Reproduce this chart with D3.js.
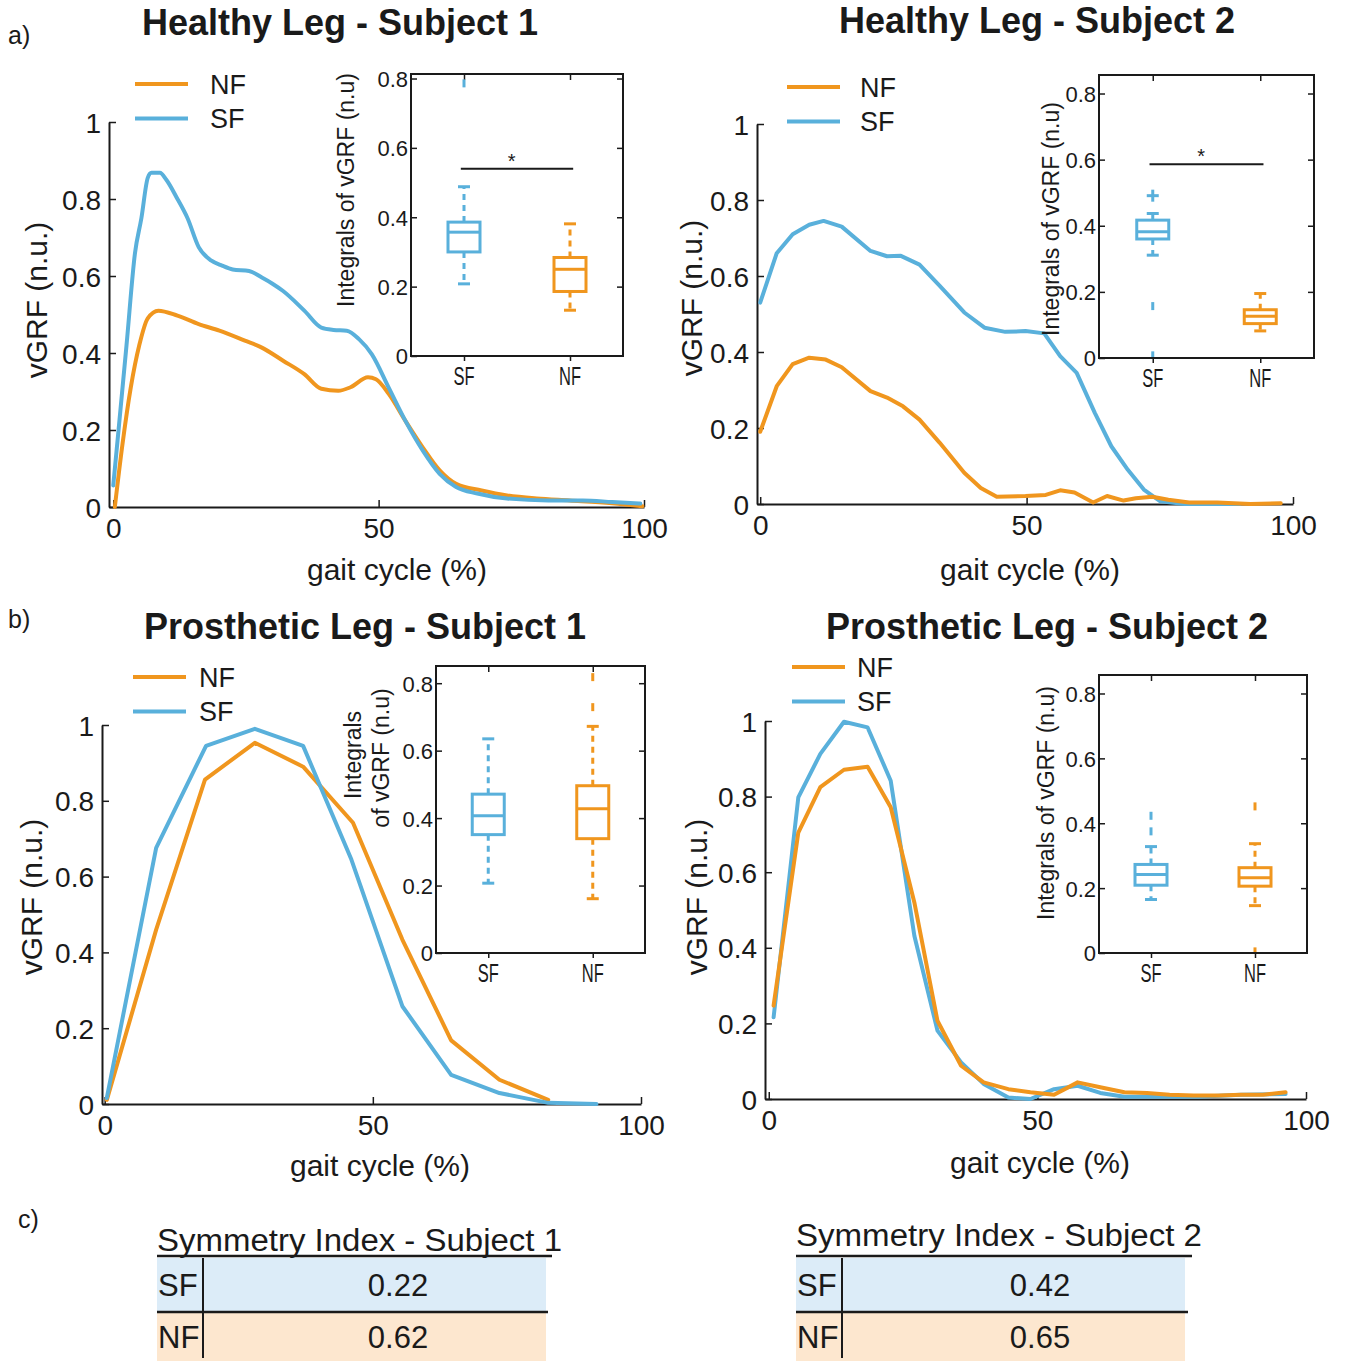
<!DOCTYPE html>
<html><head><meta charset="utf-8">
<script src="https://cdn.jsdelivr.net/npm/d3@7"></script>
<style>
body{margin:0;background:#fff}
svg{display:block}
text{font-family:"Liberation Sans",Arial,Helvetica,sans-serif;fill:#1a1a1a}
</style>
</head><body>
<svg id="fig" width="1350" height="1361"></svg>
<script>
// ---------------- DATA ----------------
const seriesNames = ["NF", "SF"];
const gaitTicks = [0, 50, 100];
const vgrfTicks = [0, 0.2, 0.4, 0.6, 0.8, 1];
const insetTicks = [0, 0.2, 0.4, 0.6, 0.8];
const boxCategories = ["SF", "NF"];
const panelTitles = ["Healthy Leg - Subject 1", "Healthy Leg - Subject 2", "Prosthetic Leg - Subject 1", "Prosthetic Leg - Subject 2"];

// a) Healthy leg, subject 1
const a1SFx = [0, 1, 2.5, 4.1, 5.3, 6.5, 7.2, 8.8, 10, 12.1, 14, 16.1, 18.5, 20.5, 22.5, 25.6, 28, 30, 32, 36, 39.2, 41.5, 44, 46.3, 48.7, 51.9, 55, 58.3, 61.5, 64.6, 68.6, 74.2, 82, 88.5, 94, 99.3];
const a1SFy = [0.056, 0.2, 0.42, 0.66, 0.75, 0.855, 0.868, 0.868, 0.85, 0.80, 0.75, 0.675, 0.64, 0.627, 0.617, 0.613, 0.596, 0.58, 0.561, 0.51, 0.466, 0.46, 0.458, 0.436, 0.397, 0.31, 0.225, 0.147, 0.086, 0.052, 0.035, 0.022, 0.017, 0.017, 0.013, 0.009];
const a1NFx = [0.3, 1.75, 3.3, 4.9, 6.5, 8.5, 12.1, 16.1, 20, 24.8, 28, 32, 36, 39.2, 42.4, 44.7, 48, 49.5, 51.9, 55, 58.3, 61.5, 64.6, 69.4, 74.2, 79.8, 86, 94, 99.7];
const a1NFy = [0, 0.164, 0.31, 0.42, 0.49, 0.51, 0.497, 0.475, 0.458, 0.432, 0.414, 0.38, 0.345, 0.307, 0.302, 0.311, 0.337, 0.332, 0.294, 0.225, 0.155, 0.095, 0.06, 0.043, 0.03, 0.022, 0.017, 0.01, 0.002];
// a) Healthy leg, subject 2
const a2SFx = [0, 3.1, 6.1, 9.2, 11.9, 15.3, 20.7, 23.8, 26.4, 29.9, 33.7, 38.3, 42.1, 46, 49.8, 53.3, 56.3, 59.4, 62.8, 65.9, 69, 72, 75.1, 79.7, 85, 90];
const a2SFy = [0.53, 0.66, 0.71, 0.735, 0.745, 0.73, 0.666, 0.652, 0.653, 0.63, 0.574, 0.504, 0.464, 0.453, 0.455, 0.449, 0.389, 0.345, 0.24, 0.152, 0.09, 0.038, 0.007, 0, 0, 0];
const a2NFx = [0, 3.1, 6.1, 9.2, 12.3, 15.3, 20.7, 23.8, 26.8, 29.9, 33.7, 38.3, 41.4, 44.4, 49.8, 53.6, 56.3, 59, 62.5, 65.1, 68.2, 70.5, 73.6, 76.6, 80.5, 85.8, 92, 97.7];
const a2NFy = [0.19, 0.31, 0.368, 0.385, 0.38, 0.36, 0.297, 0.28, 0.257, 0.222, 0.161, 0.082, 0.042, 0.019, 0.021, 0.024, 0.036, 0.03, 0.004, 0.021, 0.009, 0.015, 0.019, 0.011, 0.004, 0.004, 0, 0.002];
// b) Prosthetic leg, subject 1
const b1SFx = [0.4, 9.6, 18.9, 28, 37, 46, 55.5, 64.6, 73.6, 82.7, 91.7];
const b1SFy = [0.016, 0.676, 0.945, 0.99, 0.945, 0.645, 0.258, 0.077, 0.029, 0.003, 0];
const b1NFx = [0.4, 9.6, 18.7, 28, 37, 46.3, 55.5, 64.6, 73.6, 82.7];
const b1NFy = [0.011, 0.46, 0.856, 0.953, 0.89, 0.742, 0.434, 0.168, 0.064, 0.011];
// b) Prosthetic leg, subject 2
const b2SFx = [0.9, 5.5, 9.6, 14, 18.4, 22.7, 27.1, 31.4, 35.8, 40, 44.6, 48.7, 53.1, 57.5, 61.7, 66.2, 70.4, 75, 80, 87.9, 96.2];
const b2SFy = [0.216, 0.798, 0.913, 0.998, 0.983, 0.842, 0.432, 0.181, 0.097, 0.04, 0.004, 0, 0.026, 0.035, 0.016, 0.006, 0.006, 0.006, 0.006, 0.011, 0.013];
const b2NFx = [0.9, 5.5, 9.6, 14, 18.4, 22.7, 27.1, 31.4, 35.8, 40, 44.6, 48.7, 53.1, 57.5, 61.7, 66.2, 70.4, 74.6, 79.1, 83.7, 87.9, 92, 96.2];
const b2NFy = [0.247, 0.705, 0.825, 0.871, 0.879, 0.772, 0.52, 0.207, 0.088, 0.044, 0.026, 0.018, 0.011, 0.044, 0.031, 0.018, 0.016, 0.011, 0.009, 0.009, 0.011, 0.011, 0.018];

// Box plots of vGRF integrals: [lower whisker, q1, median, q3, upper whisker]
const a1BoxSF = [0.208, 0.30, 0.357, 0.386, 0.488], a1BoxNF = [0.132, 0.186, 0.25, 0.284, 0.381];
const a1OutSF = [0.786], a1OutNF = [], a1PlusSF = [], a1PlusNF = [];
const a2BoxSF = [0.311, 0.36, 0.382, 0.417, 0.437], a2BoxNF = [0.082, 0.104, 0.126, 0.146, 0.195];
const a2OutSF = [0.157, 0.008], a2OutNF = [], a2PlusSF = [0.491], a2PlusNF = [];
const b1BoxSF = [0.207, 0.351, 0.407, 0.471, 0.635], b1BoxNF = [0.161, 0.339, 0.428, 0.496, 0.672];
const b1OutSF = [], b1OutNF = [0.729, 0.818], b1PlusSF = [], b1PlusNF = [];
const b2BoxSF = [0.165, 0.209, 0.242, 0.273, 0.328], b2BoxNF = [0.146, 0.206, 0.232, 0.263, 0.337];
const b2OutSF = [0.375, 0.423], b2OutNF = [0.452, 0.005], b2PlusSF = [], b2PlusNF = [];
const sigLevels = [0.54, 0.586, null, null];

// c) Symmetry index table
const tableTitles = ["Symmetry Index - Subject 1", "Symmetry Index - Subject 2"];
const symmetrySF = [0.22, 0.42];
const symmetryNF = [0.62, 0.65];

// ---------------- STYLE / LAYOUT ----------------
const COLOR = {NF: "#f0961e", SF: "#59b0db"};
const svg = d3.select("#fig");
const fmtV = d => d === 0 ? "0" : d === 1 ? "1" : d.toFixed(1);

function styleAxis(g, fs, domainW) {
  g.selectAll(".domain").attr("stroke", "#1a1a1a").attr("stroke-width", domainW);
  g.selectAll(".tick line").attr("stroke", "#1a1a1a").attr("stroke-width", 1.5);
  g.selectAll(".tick text").attr("font-size", fs).attr("fill", "#1a1a1a").attr("font-family", "Liberation Sans, Arial, sans-serif");
}

function drawMain(L, series, order, curve) {
  const g = svg.append("g");
  const x = d3.scaleLinear().domain([L.xmin, 100]).range([L.axisX, L.x100]);
  const y = d3.scaleLinear().domain([0, 1]).range([L.y0, L.y1]);
  const gx = g.append("g").attr("transform", `translate(0,${L.y0})`)
    .call(d3.axisBottom(x).tickValues(gaitTicks).tickSizeInner(-7).tickSizeOuter(0).tickPadding(11));
  styleAxis(gx, 28, 2);
  const gy = g.append("g").attr("transform", `translate(${L.axisX},0)`)
    .call(d3.axisLeft(y).tickValues(vgrfTicks).tickSizeInner(-7).tickSizeOuter(0).tickPadding(8).tickFormat(fmtV));
  styleAxis(gy, 28, 2);
  gy.selectAll(".tick text").attr("dy", "0.36em");
  const line = d3.line().x(d => x(d[0])).y(d => y(d[1])).curve(curve);
  order.forEach(name => {
    const s = series[name];
    g.append("path").datum(d3.zip(s[0], s[1]))
      .attr("d", line).attr("fill", "none").attr("stroke", COLOR[name])
      .attr("stroke-width", 4).attr("stroke-linejoin", "round").attr("stroke-linecap", "round");
  });
  // legend
  seriesNames.forEach((name, i) => {
    const ly = L.legY + i * 34.5;
    g.append("line").attr("x1", L.legX).attr("x2", L.legX + 53).attr("y1", ly).attr("y2", ly)
      .attr("stroke", COLOR[name]).attr("stroke-width", 4);
    g.append("text").attr("x", L.legX + L.legGap).attr("y", ly + 9.5).attr("font-size", 27).text(name);
  });
  g.append("text").attr("x", L.titleX).attr("y", L.titleY).attr("text-anchor", "middle")
    .attr("font-size", 36).attr("font-weight", "bold").text(L.title);
  g.append("text").attr("x", L.xlabX).attr("y", L.xlabY).attr("text-anchor", "middle")
    .attr("font-size", 30).text("gait cycle (%)");
  g.append("text").attr("transform", `translate(${L.ylabX},${L.ylabY}) rotate(-90)`)
    .attr("text-anchor", "middle").attr("dominant-baseline", "central").attr("font-size", 30).text("vGRF (n.u.)");
}

function drawInset(B, boxes, outs, plus, sig, labelLines) {
  const g = svg.append("g");
  const y = d3.scaleLinear().domain([0, B.ymax]).range([B.bottom, B.top]);
  const x = d3.scaleLinear().domain([0.5, 2.5]).range([B.left, B.right]);
  g.append("rect").attr("x", B.left).attr("y", B.top).attr("width", B.right - B.left).attr("height", B.bottom - B.top)
    .attr("fill", "none").attr("stroke", "#1a1a1a").attr("stroke-width", 2);
  const gl = g.append("g").attr("transform", `translate(${B.left},0)`)
    .call(d3.axisLeft(y).tickValues(insetTicks).tickSizeInner(-6).tickSizeOuter(0).tickPadding(3).tickFormat(fmtV));
  styleAxis(gl, 22, 0); gl.select(".domain").remove();
  gl.selectAll(".tick text").attr("dy", "0.36em");
  const gr = g.append("g").attr("transform", `translate(${B.right},0)`)
    .call(d3.axisRight(y).tickValues(insetTicks.filter(v => v > 0)).tickSizeInner(-6).tickSizeOuter(0).tickFormat(""));
  styleAxis(gr, 22, 0); gr.select(".domain").remove();
  const gt = g.append("g").attr("transform", `translate(0,${B.top})`)
    .call(d3.axisTop(x).tickValues([1, 2]).tickSizeInner(-6).tickSizeOuter(0).tickFormat(""));
  styleAxis(gt, 22, 0); gt.select(".domain").remove();
  const gb = g.append("g").attr("transform", `translate(0,${B.bottom})`)
    .call(d3.axisBottom(x).tickValues([1, 2]).tickSizeInner(5).tickSizeOuter(0).tickFormat(""));
  styleAxis(gb, 22, 0); gb.select(".domain").remove();
  boxCategories.forEach((cat, i) => {
    const cx = x(i + 1), c = COLOR[cat], s = boxes[cat];
    const hw = 16, cw = 6;
    [[s[1], s[0]], [s[3], s[4]]].forEach(([a, b]) => {
      g.append("line").attr("x1", cx).attr("x2", cx).attr("y1", y(a)).attr("y2", y(b))
        .attr("stroke", c).attr("stroke-width", 3).attr("stroke-dasharray", "6,5");
    });
    [s[0], s[4]].forEach(v => {
      g.append("line").attr("x1", cx - cw).attr("x2", cx + cw).attr("y1", y(v)).attr("y2", y(v))
        .attr("stroke", c).attr("stroke-width", 3);
    });
    g.append("rect").attr("x", cx - hw).attr("y", y(s[3])).attr("width", 2 * hw).attr("height", y(s[1]) - y(s[3]))
      .attr("fill", "none").attr("stroke", c).attr("stroke-width", 3);
    g.append("line").attr("x1", cx - hw).attr("x2", cx + hw).attr("y1", y(s[2])).attr("y2", y(s[2]))
      .attr("stroke", c).attr("stroke-width", 3);
    outs[cat].forEach(v => {
      g.append("line").attr("x1", cx).attr("x2", cx).attr("y1", Math.min(y(v) + 4, B.bottom - 1)).attr("y2", y(v) - 4)
        .attr("stroke", c).attr("stroke-width", 3);
    });
    plus[cat].forEach(v => {
      g.append("line").attr("x1", cx).attr("x2", cx).attr("y1", y(v) + 6).attr("y2", y(v) - 6).attr("stroke", c).attr("stroke-width", 3);
      g.append("line").attr("x1", cx - 6).attr("x2", cx + 6).attr("y1", y(v)).attr("y2", y(v)).attr("stroke", c).attr("stroke-width", 3);
    });
    g.append("text").attr("transform", `translate(${cx},${B.bottom + 29}) scale(0.66,1)`)
      .attr("text-anchor", "middle").attr("font-size", 25).text(cat);
  });
  if (sig !== null) {
    g.append("line").attr("x1", x(0.97)).attr("x2", x(2.03)).attr("y1", y(sig)).attr("y2", y(sig))
      .attr("stroke", "#1a1a1a").attr("stroke-width", 2);
    g.append("text").attr("x", x(1.45)).attr("y", y(sig) - 1).attr("text-anchor", "middle").attr("font-size", 20).text("*");
  }
  labelLines.forEach(l => {
    g.append("text").attr("transform", `translate(${l.x},${l.y}) rotate(-90)`)
      .attr("text-anchor", "middle").attr("dominant-baseline", "central").attr("font-size", 23).text(l.t);
  });
}

// ---------------- PANELS ----------------
const mainLayouts = [
  {title: panelTitles[0], xmin: -0.8, axisX: 109, x100: 644, y0: 507, y1: 122, legX: 135, legY: 84, legGap: 75,
   titleX: 340, titleY: 35, xlabX: 397, xlabY: 580, ylabX: 36, ylabY: 300},
  {title: panelTitles[1], xmin: -0.6, axisX: 757, x100: 1293, y0: 504, y1: 124, legX: 787, legY: 87, legGap: 73,
   titleX: 1037, titleY: 33, xlabX: 1030, xlabY: 580, ylabX: 691, ylabY: 298},
  {title: panelTitles[2], xmin: -0.5, axisX: 102, x100: 641, y0: 1104, y1: 725, legX: 133, legY: 677, legGap: 66,
   titleX: 365, titleY: 639, xlabX: 380, xlabY: 1176, ylabX: 31, ylabY: 897},
  {title: panelTitles[3], xmin: -0.7, axisX: 765, x100: 1306, y0: 1099, y1: 721, legX: 792, legY: 667, legGap: 65,
   titleX: 1047, titleY: 639, xlabX: 1040, xlabY: 1173, ylabX: 696, ylabY: 897}
];
const mainSeries = [
  {NF: [a1NFx, a1NFy], SF: [a1SFx, a1SFy]},
  {NF: [a2NFx, a2NFy], SF: [a2SFx, a2SFy]},
  {NF: [b1NFx, b1NFy], SF: [b1SFx, b1SFy]},
  {NF: [b2NFx, b2NFy], SF: [b2SFx, b2SFy]}
];
const lineOrder = [["NF", "SF"], ["SF", "NF"], ["NF", "SF"], ["SF", "NF"]];
const lineCurves = [d3.curveMonotoneX, d3.curveLinear, d3.curveLinear, d3.curveLinear];
mainLayouts.forEach((L, i) => drawMain(L, mainSeries[i], lineOrder[i], lineCurves[i]));

const insetLayouts = [
  {left: 411, right: 623, top: 74, bottom: 356, ymax: 0.813},
  {left: 1099, right: 1314, top: 75, bottom: 358, ymax: 0.856},
  {left: 436, right: 645, top: 666, bottom: 953, ymax: 0.851},
  {left: 1099, right: 1307, top: 675, bottom: 953, ymax: 0.857}
];
const insetBoxes = [
  {SF: a1BoxSF, NF: a1BoxNF}, {SF: a2BoxSF, NF: a2BoxNF}, {SF: b1BoxSF, NF: b1BoxNF}, {SF: b2BoxSF, NF: b2BoxNF}
];
const insetOuts = [
  {SF: a1OutSF, NF: a1OutNF}, {SF: a2OutSF, NF: a2OutNF}, {SF: b1OutSF, NF: b1OutNF}, {SF: b2OutSF, NF: b2OutNF}
];
const insetPlus = [
  {SF: a1PlusSF, NF: a1PlusNF}, {SF: a2PlusSF, NF: a2PlusNF}, {SF: b1PlusSF, NF: b1PlusNF}, {SF: b2PlusSF, NF: b2PlusNF}
];
const insetLabels = [
  [{x: 346, y: 190, t: "Integrals of vGRF (n.u)"}],
  [{x: 1051, y: 219, t: "Integrals of vGRF (n.u)"}],
  [{x: 353, y: 755, t: "Integrals"}, {x: 381, y: 758, t: "of vGRF (n.u)"}],
  [{x: 1046, y: 803, t: "Integrals of vGRF (n.u)"}]
];
insetLayouts.forEach((B, i) => drawInset(B, insetBoxes[i], insetOuts[i], insetPlus[i], sigLevels[i], insetLabels[i]));

// panel letters
[["a)", 8, 44], ["b)", 8, 628], ["c)", 18, 1228]].forEach(([t, px, py]) => {
  svg.append("text").attr("x", px).attr("y", py).attr("font-size", 25).text(t);
});

// ---------------- TABLES ----------------
const tableLayouts = [
  {left: 157, titleY: 1251, titleW: 405, lineR: 552, fillR: 546, sepX: 203, valX: 398},
  {left: 796, titleY: 1246, titleW: 406, lineR: 1192, fillR: 1185, sepX: 842, valX: 1040}
];
tableLayouts.forEach((T, i) => {
  const g = svg.append("g");
  const rows = [{name: "SF", v: symmetrySF[i], fill: "#dcecf8", y0: 1258, y1: 1311},
                {name: "NF", v: symmetryNF[i], fill: "#fde7cf", y0: 1313, y1: 1361}];
  rows.forEach(r => {
    g.append("rect").attr("x", T.left).attr("y", r.y0).attr("width", T.fillR - T.left).attr("height", r.y1 - r.y0).attr("fill", r.fill);
    g.append("text").attr("x", T.left + 1).attr("y", (r.y0 + r.y1) / 2 + 11).attr("font-size", 31).text(r.name);
    g.append("text").attr("x", T.valX).attr("y", (r.y0 + r.y1) / 2 + 11).attr("font-size", 31)
      .attr("text-anchor", "middle").text(r.v.toFixed(2));
  });
  g.append("text").attr("x", T.left).attr("y", T.titleY).attr("font-size", 31)
    .attr("textLength", T.titleW).attr("lengthAdjust", "spacingAndGlyphs").text(tableTitles[i]);
  g.append("line").attr("x1", T.left).attr("x2", T.lineR).attr("y1", 1256).attr("y2", 1256).attr("stroke", "#1a1a1a").attr("stroke-width", 2.5);
  g.append("line").attr("x1", T.left).attr("x2", T.lineR - 4).attr("y1", 1312).attr("y2", 1312).attr("stroke", "#1a1a1a").attr("stroke-width", 2.5);
  g.append("line").attr("x1", T.sepX).attr("x2", T.sepX).attr("y1", 1258).attr("y2", 1358).attr("stroke", "#1a1a1a").attr("stroke-width", 2);
});
</script>
</body></html>
